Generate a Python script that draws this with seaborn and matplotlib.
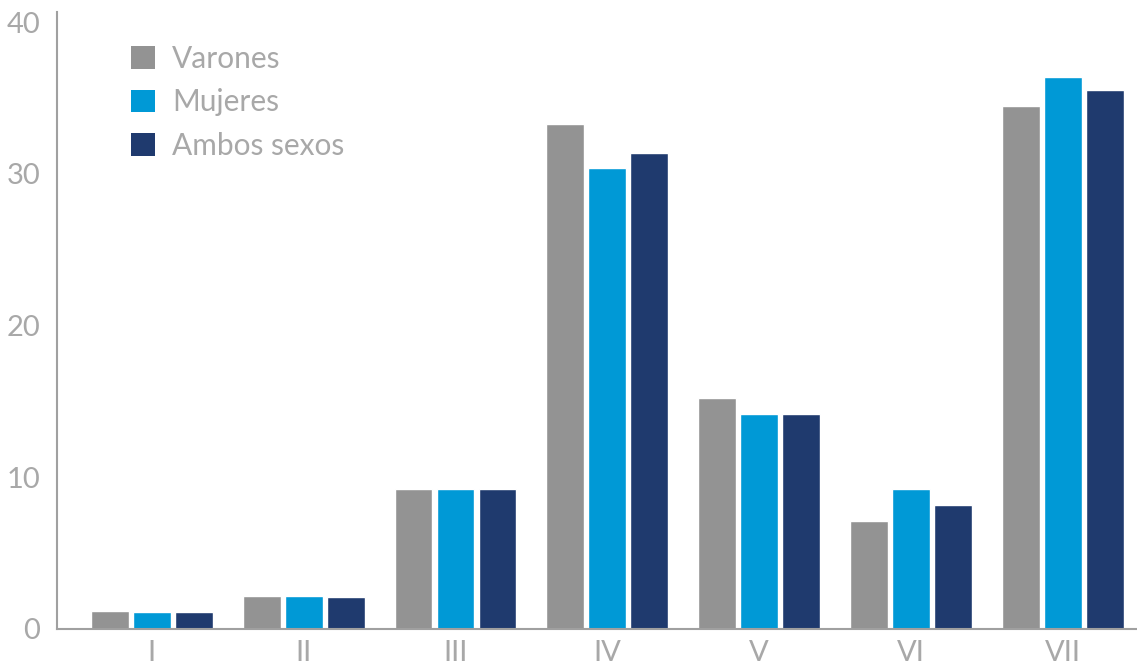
import matplotlib
matplotlib.use("Agg")
import matplotlib.pyplot as plt
import seaborn as sns
import pandas as pd
from matplotlib.patches import Patch

categories = ["I", "II", "III", "IV", "V", "VI", "VII"]
series_names = ["Varones", "Mujeres", "Ambos sexos"]
varones = [1.2, 2.2, 9.2, 33.3, 15.2, 7.1, 34.5]
mujeres = [1.1, 2.2, 9.2, 30.4, 14.2, 9.2, 36.4]
ambos = [1.1, 2.1, 9.2, 31.4, 14.2, 8.2, 35.5]
y_ticks = [0, 10, 20, 30, 40]
colors = ["#939393", "#0099d6", "#1f3a6e"]

rows = []
for name, vals in zip(series_names, [varones, mujeres, ambos]):
    for c, v in zip(categories, vals):
        rows.append({"cat": c, "serie": name, "valor": v})
df = pd.DataFrame(rows)

sns.set_style("white")
plt.rcParams["font.family"] = ["Lato", "DejaVu Sans"]

fig = plt.figure(figsize=(11.37, 6.71), dpi=100)
ax = fig.add_axes([0.0501, 0.0626, 0.9499, 0.9194])

sns.barplot(data=df, x="cat", y="valor", hue="serie", order=categories,
            hue_order=series_names, palette=colors, width=0.83, gap=0.1,
            saturation=1, ax=ax, legend=False, errorbar=None)

txt_color = "#a8a8a8"
ax.set_xlim(-0.625, 6.49)
ax.set_ylim(0, 40.66)
ax.set_yticks(y_ticks)
ax.set_yticklabels([str(t) for t in y_ticks])
ax.set_xlabel("")
ax.set_ylabel("")
for s in ["top", "right"]:
    ax.spines[s].set_visible(False)
for s in ["left", "bottom"]:
    ax.spines[s].set_color("#a0a0a0")
    ax.spines[s].set_linewidth(1.5)
ax.tick_params(axis="both", length=0, colors=txt_color, labelsize=21)
ax.tick_params(axis="y", pad=12)
ax.tick_params(axis="x", pad=8)

handles = [Patch(facecolor=c, edgecolor="none") for c in colors]
leg = ax.legend(handles, series_names, loc="upper left",
                bbox_to_anchor=(0.0685, 0.947), frameon=False,
                borderaxespad=0, borderpad=0,
                fontsize=21.5, handlelength=0.8, handleheight=0.8,
                handletextpad=0.57, labelspacing=0.52, labelcolor=txt_color)

fig.savefig("out.png", dpi=100)
